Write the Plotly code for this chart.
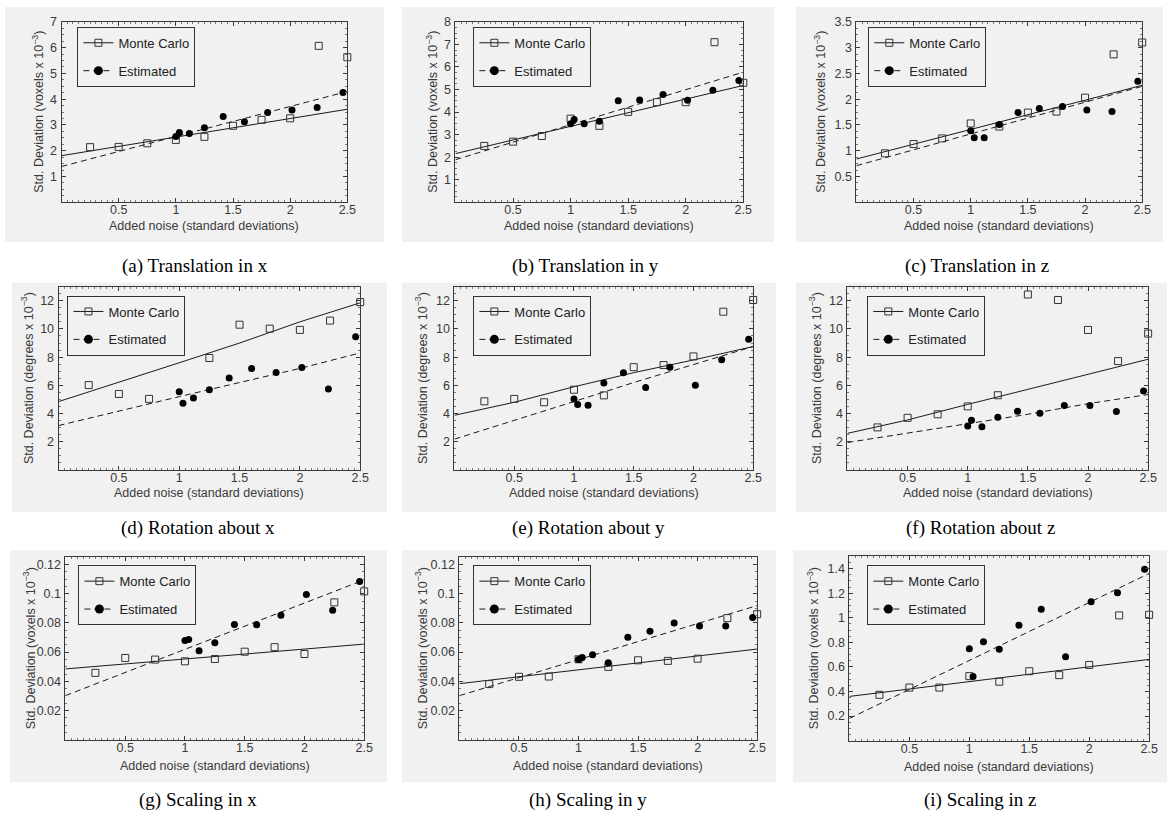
import plotly.graph_objects as go

W, H = 1176, 820

# ---------------- data ----------------
X_MC = [0.25, 0.5, 0.75, 1.0, 1.25, 1.5, 1.75, 2.0, 2.25, 2.5]
X_EST = [1.0, 1.031, 1.118, 1.25, 1.414, 1.6, 1.803, 2.016, 2.236, 2.462]
X_FIT = [0.0, 0.5, 1.0, 1.5, 2.0, 2.5]

captions = ["(a) Translation in x", "(b) Translation in y", "(c) Translation in z",
            "(d) Rotation about x", "(e) Rotation about y", "(f) Rotation about z",
            "(g) Scaling in x", "(h) Scaling in y", "(i) Scaling in z"]

units = ["voxels", "voxels", "voxels", "degrees", "degrees", "degrees",
         "voxels", "voxels", "voxels"]

mc_a = [2.14, 2.15, 2.29, 2.42, 2.54, 2.97, 3.20, 3.26, 6.07, 5.63]
est_a = [2.55, 2.71, 2.67, 2.89, 3.33, 3.13, 3.48, 3.58, 3.68, 4.26]
mcfit_a = [1.81, 2.17, 2.53, 2.89, 3.25, 3.61]
estfit_a = [1.39, 1.97, 2.55, 3.14, 3.72, 4.30]

mc_b = [2.50, 2.69, 2.94, 3.71, 3.39, 4.01, 4.44, 4.44, 7.10, 5.30]
est_b = [3.48, 3.67, 3.48, 3.59, 4.50, 4.54, 4.78, 4.53, 4.97, 5.40]
mcfit_b = [2.16, 2.76, 3.37, 3.97, 4.58, 5.18]
estfit_b = [1.89, 2.67, 3.44, 4.22, 4.99, 5.77]

mc_c = [0.95, 1.13, 1.24, 1.53, 1.47, 1.74, 1.76, 2.03, 2.87, 3.10]
est_c = [1.39, 1.25, 1.25, 1.51, 1.74, 1.82, 1.86, 1.79, 1.76, 2.35]
mcfit_c = [0.84, 1.13, 1.41, 1.70, 1.98, 2.27]
estfit_c = [0.71, 1.02, 1.33, 1.63, 1.94, 2.25]

mc_d = [6.02, 5.39, 5.04, 9.44, 7.94, 10.30, 10.02, 9.93, 10.59, 11.90]
est_d = [5.55, 4.73, 5.11, 5.69, 6.53, 7.19, 6.91, 7.26, 5.74, 9.44]
mcfit_d = [4.85, 6.2, 7.6, 9.0, 10.5, 11.85]
estfit_d = [3.15, 4.2, 5.2, 6.2, 7.2, 8.3]

mc_e = [4.87, 5.04, 4.80, 5.69, 5.29, 7.29, 7.44, 8.05, 11.22, 12.05]
est_e = [5.04, 4.64, 4.59, 6.16, 6.89, 5.84, 7.29, 6.00, 7.81, 9.27]
mcfit_e = [3.88, 4.8, 5.9, 6.9, 7.8, 8.75]
estfit_e = [2.19, 3.5, 4.85, 6.2, 7.5, 8.75]

mc_f = [3.02, 3.70, 3.95, 4.51, 5.30, 12.44, 12.05, 9.93, 7.72, 9.67]
est_f = [3.12, 3.53, 3.07, 3.74, 4.16, 4.02, 4.58, 4.58, 4.14, 5.60]
mcfit_f = [2.6, 3.55, 4.65, 5.7, 6.8, 7.85]
estfit_f = [1.95, 2.6, 3.25, 3.95, 4.7, 5.35]

mc_g = [0.0458, 0.0560, 0.0549, 0.0537, 0.0553, 0.0603, 0.0634, 0.0587, 0.0941, 0.1016]
est_g = [0.0680, 0.0686, 0.0609, 0.0664, 0.0790, 0.0788, 0.0853, 0.0995, 0.0887, 0.1084]
mcfit_g = [0.0485, 0.0519, 0.0553, 0.0587, 0.0621, 0.0655]
estfit_g = [0.0302, 0.0461, 0.0619, 0.0778, 0.0936, 0.1095]

mc_h = [0.0381, 0.0431, 0.0433, 0.0551, 0.0499, 0.0544, 0.0540, 0.0555, 0.0833, 0.0860]
est_h = [0.0549, 0.0564, 0.0582, 0.0528, 0.0702, 0.0743, 0.0799, 0.0779, 0.0779, 0.0837]
mcfit_h = [0.0384, 0.0431, 0.0479, 0.0526, 0.0574, 0.0621]
estfit_h = [0.0302, 0.0425, 0.0549, 0.0672, 0.0796, 0.0919]

mc_i = [0.373, 0.432, 0.432, 0.525, 0.480, 0.565, 0.533, 0.616, 1.019, 1.024]
est_i = [0.747, 0.523, 0.805, 0.744, 0.939, 1.069, 0.683, 1.131, 1.203, 1.395]
mcfit_i = [0.36, 0.42, 0.48, 0.54, 0.60, 0.661]
estfit_i = [0.181, 0.417, 0.653, 0.888, 1.124, 1.36]

mc_all = [mc_a, mc_b, mc_c, mc_d, mc_e, mc_f, mc_g, mc_h, mc_i]
est_all = [est_a, est_b, est_c, est_d, est_e, est_f, est_g, est_h, est_i]
mcfit_all = [mcfit_a, mcfit_b, mcfit_c, mcfit_d, mcfit_e, mcfit_f, mcfit_g, mcfit_h, mcfit_i]
estfit_all = [estfit_a, estfit_b, estfit_c, estfit_d, estfit_e, estfit_f, estfit_g, estfit_h, estfit_i]

y_ranges = [[0, 7], [0, 8], [0, 3.5], [0, 13], [0, 13], [0, 13],
            [0, 0.125], [0, 0.125], [0, 1.5]]
y_ticks = [[1, 2, 3, 4, 5, 6, 7],
           [1, 2, 3, 4, 5, 6, 7, 8],
           [0.5, 1, 1.5, 2, 2.5, 3, 3.5],
           [2, 4, 6, 8, 10, 12], [2, 4, 6, 8, 10, 12], [2, 4, 6, 8, 10, 12],
           [0.02, 0.04, 0.06, 0.08, 0.1, 0.12], [0.02, 0.04, 0.06, 0.08, 0.1, 0.12],
           [0.2, 0.4, 0.6, 0.8, 1, 1.2, 1.4]]
y_minor = [0.25, 0.25, 0.125, 0.5, 0.5, 0.5, 0.005, 0.005, 0.05]
x_ticks = [0.5, 1, 1.5, 2, 2.5]

# ---------------- layout geometry (pixels) ----------------
axes_px = [(62, 350, 15, 197), (459, 749, 15, 197), (863, 1151, 15, 197),
           (59, 363, 282, 467), (458, 759, 282, 467), (854, 1157, 282, 467),
           (66, 367, 555, 739), (463, 763, 555, 739), (856, 1158, 554, 740)]
bg_px = [(5, 387, 0, 237), (405, 780, 0, 237), (802, 1172, 0, 237),
         (12, 390, 278, 509), (405, 782, 278, 509), (802, 1176, 278, 509),
         (10, 390, 548, 782), (405, 782, 548, 782), (799, 1176, 548, 782)]
legend_px = [(78, 20), (477, 20), (875, 20), (68, 291), (477, 291), (874, 291),
             (79, 563), (477, 563), (874, 563)]
caption_px = [(196, 261), (590, 261), (985, 261), (200, 525), (593, 525), (988, 525),
              (200, 800), (593, 800), (988, 800)]
ytitle_off = [24, 24, 37, 31, 33, 32, 36, 38, 36]
xtitle_off = [24, 24, 24, 23, 23, 23, 27, 27, 27]

BG = "#f1f1f1"
AXC = "#3a3a3a"
FONT = "Arial, Liberation Sans, sans-serif"
SERIF = "Times New Roman, Liberation Serif, serif"


def px(xp):
    return xp / W


def py(yp):
    return 1 - yp / H


fig = go.Figure()
shapes = []
annotations = []
layout = dict(width=W, height=H, margin=dict(l=0, r=0, t=0, b=0),
              paper_bgcolor="white", plot_bgcolor="rgba(0,0,0,0)",
              showlegend=True)

for k in range(9):
    n = k + 1
    xa = "x" if n == 1 else f"x{n}"
    ya = "y" if n == 1 else f"y{n}"
    xkey = "xaxis" if n == 1 else f"xaxis{n}"
    ykey = "yaxis" if n == 1 else f"yaxis{n}"
    lg = "legend" if n == 1 else f"legend{n}"
    l, r, t, b = axes_px[k]

    layout[xkey] = dict(domain=[px(l), px(r)], anchor=ya, range=[0, 2.5],
                        tickvals=x_ticks, ticktext=[str(v) for v in x_ticks],
                        ticks="inside", ticklen=4, tickcolor=AXC,
                        showline=True, linecolor=AXC, linewidth=1, mirror="ticks",
                        showgrid=False, zeroline=False, ticklabelstandoff=-4,
                        tickfont=dict(family=FONT, size=12.5, color=AXC),
                        minor=dict(ticks="inside", ticklen=2, dtick=0.05,
                                   tick0=0, tickcolor="#777"))
    layout[ykey] = dict(domain=[py(b), py(t)], anchor=xa, range=y_ranges[k],
                        tickvals=y_ticks[k], ticktext=[f"{v:g}" for v in y_ticks[k]],
                        ticks="inside", ticklen=4, tickcolor=AXC,
                        showline=True, linecolor=AXC, linewidth=1, mirror="ticks",
                        showgrid=False, zeroline=False, ticklabelstandoff=1,
                        tickfont=dict(family=FONT, size=12.5, color=AXC),
                        minor=dict(ticks="inside", ticklen=2, dtick=y_minor[k],
                                   tick0=0, tickcolor="#777"))

    # fitted lines
    fig.add_trace(go.Scatter(x=X_FIT, y=mcfit_all[k], mode="lines", xaxis=xa, yaxis=ya,
                             line=dict(color="#1a1a1a", width=1), showlegend=False,
                             hoverinfo="skip"))
    fig.add_trace(go.Scatter(x=X_FIT, y=estfit_all[k], mode="lines", xaxis=xa, yaxis=ya,
                             line=dict(color="#1a1a1a", width=1, dash="6px,4px"),
                             showlegend=False, hoverinfo="skip"))
    # data points
    fig.add_trace(go.Scatter(x=X_MC, y=mc_all[k], mode="markers", xaxis=xa, yaxis=ya,
                             marker=dict(symbol="square-open", size=7, color="#333",
                                         line=dict(width=1)),
                             showlegend=False, cliponaxis=False))
    fig.add_trace(go.Scatter(x=X_EST, y=est_all[k], mode="markers", xaxis=xa, yaxis=ya,
                             marker=dict(symbol="circle", size=7, color="#000"),
                             showlegend=False, cliponaxis=False))
    # legend entries
    fig.add_trace(go.Scatter(x=[None], y=[None], mode="lines+markers", xaxis=xa, yaxis=ya,
                             name="Monte Carlo", legend=lg, legendgroup=f"mc{n}",
                             line=dict(color="#1a1a1a", width=1),
                             marker=dict(symbol="square-open", size=7, color="#333",
                                         line=dict(width=1))))
    fig.add_trace(go.Scatter(x=[None], y=[None], mode="lines+markers", xaxis=xa, yaxis=ya,
                             name="Estimated", legend=lg, legendgroup=f"es{n}",
                             line=dict(color="#1a1a1a", width=1, dash="6px,4px"),
                             marker=dict(symbol="circle", size=9, color="#000")))

    lx, ly = legend_px[k]
    layout[lg] = dict(x=px(lx), y=py(ly), xanchor="left", yanchor="top",
                      bgcolor=BG, bordercolor="#333", borderwidth=1,
                      font=dict(family=FONT, size=13, color="#222"),
                      traceorder="grouped", tracegroupgap=8, itemwidth=30)

    # grey panel background
    x0, x1, y0, y1 = bg_px[k]
    shapes.append(dict(type="rect", xref="paper", yref="paper",
                       x0=px(x0), x1=px(x1), y0=py(y1), y1=py(y0),
                       fillcolor=BG, line=dict(width=0), layer="below"))

    # axis titles
    annotations.append(dict(text="Added noise (standard deviations)",
                            xref="paper", yref="paper", x=px((l + r) / 2),
                            y=py(b + xtitle_off[k]), xanchor="center", yanchor="middle",
                            showarrow=False, font=dict(family=FONT, size=12.5, color=AXC)))
    annotations.append(dict(text=f"Std. Deviation ({units[k]} x 10<sup>−3</sup>)",
                            xref="paper", yref="paper", x=px(l - ytitle_off[k]),
                            y=py((t + b) / 2), xanchor="center", yanchor="middle",
                            textangle=-90, showarrow=False,
                            font=dict(family=FONT, size=12.5, color=AXC)))
    # caption
    cx, cy = caption_px[k]
    annotations.append(dict(text=captions[k], xref="paper", yref="paper",
                            x=px(cx), y=py(cy), xanchor="center", yanchor="middle",
                            showarrow=False, font=dict(family=SERIF, size=19, color="#000")))

layout["shapes"] = shapes
layout["annotations"] = annotations
fig.update_layout(**layout)

fig.write_html("out.html", config={"displayModeBar": False},
               post_script="document.body.style.margin='0';")
